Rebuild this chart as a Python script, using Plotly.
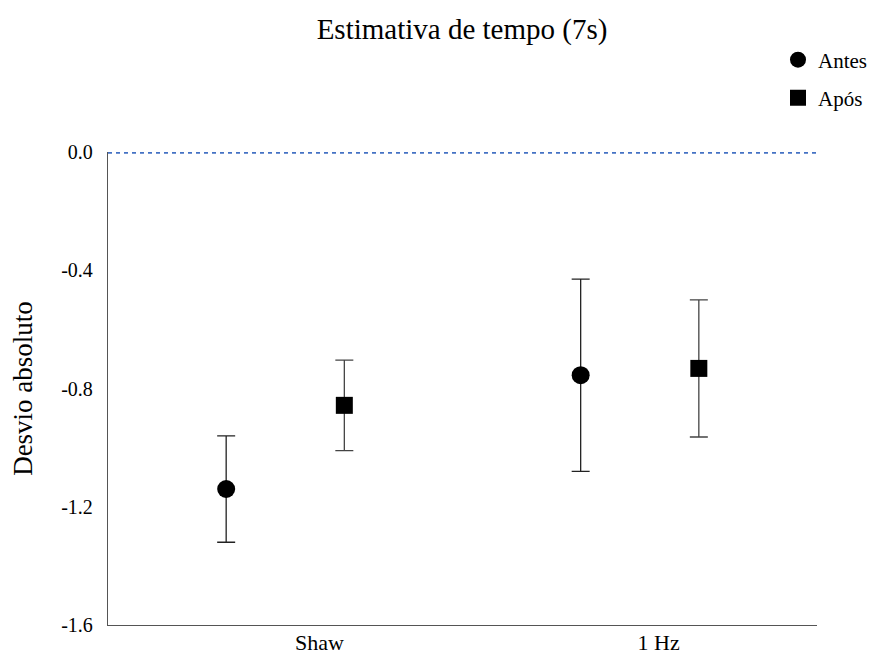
import plotly.graph_objects as go

categories = ["Shaw", "1 Hz"]
series_names = ["Antes", "Após"]
antes_values = [-1.14, -0.755]
antes_err = [0.18, 0.325]
apos_values = [-0.857, -0.732]
apos_err = [0.153, 0.232]
x_antes = [0, 3]
x_apos = [1, 4]
tick_pos = [0.79, 3.66]
y_ticks = [0.0, -0.4, -0.8, -1.2, -1.6]
y_tick_labels = ["0.0", "-0.4", "-0.8", "-1.2", "-1.6"]

FONT = "Liberation Serif"
# page has an 8px body margin, so the figure is sized to fit the window
W, H = 868, 647

fig = go.Figure()

# reference line at zero
fig.add_trace(go.Scatter(
    x=[-1, 5], y=[0, 0], mode="lines",
    line=dict(color="#4472C4", width=3.5, dash="4px,4px"),
    showlegend=False, hoverinfo="skip"))

fig.add_trace(go.Scatter(
    x=x_antes, y=antes_values, mode="markers", name=series_names[0],
    marker=dict(symbol="circle", size=18, color="black"),
    error_y=dict(type="data", array=antes_err, visible=True,
                 color="#222222", thickness=1.3, width=9),
    legend="legend"))

fig.add_trace(go.Scatter(
    x=x_apos, y=apos_values, mode="markers", name=series_names[1],
    marker=dict(symbol="square", size=17, color="black"),
    error_y=dict(type="data", array=apos_err, visible=True,
                 color="#444444", thickness=1.3, width=9),
    legend="legend2"))

fig.update_layout(
    width=W, height=H,
    paper_bgcolor="white", plot_bgcolor="white",
    margin=dict(l=100, r=59, t=144, b=30, autoexpand=False),
    font=dict(family=FONT, size=20, color="black"),
    title=dict(text="Estimativa de tempo (7s)", x=454 / W, xanchor="center",
               y=1 - 21 / H, yref="container", yanchor="middle", automargin=False,
               font=dict(family=FONT, size=29, color="black")),
    xaxis=dict(range=[-1, 5], showgrid=False, zeroline=False,
               showline=True, linecolor="#555555", linewidth=1.3,
               tickmode="array", tickvals=tick_pos, ticktext=categories,
               ticks="", automargin=False, ticklabelstandoff=-3,
               tickfont=dict(family=FONT, size=22)),
    yaxis=dict(range=[-1.6, 0.0], showgrid=False, zeroline=False,
               showline=True, linecolor="#555555", linewidth=1.3,
               tickmode="array", tickvals=y_ticks, ticktext=y_tick_labels,
               ticks="", ticklen=0, automargin=False, ticklabelstandoff=10,
               tickfont=dict(family=FONT, size=20),
               title=dict(text="Desvio absoluto", standoff=22,
                          font=dict(family=FONT, size=27))),
    legend=dict(x=770 / W, y=1 - 52 / H, xref="container", yref="container",
                xanchor="left", yanchor="middle",
                bgcolor="rgba(0,0,0,0)", font=dict(family=FONT, size=21)),
    legend2=dict(x=770 / W, y=1 - 90 / H, xref="container", yref="container",
                 xanchor="left", yanchor="middle",
                 bgcolor="rgba(0,0,0,0)", font=dict(family=FONT, size=21)),
)

fig.write_html("out.html")
